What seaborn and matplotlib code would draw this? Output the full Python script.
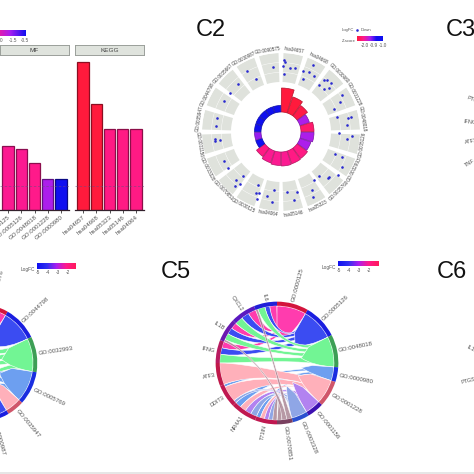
import numpy as np
import pandas as pd
import seaborn as sns
import matplotlib
matplotlib.use("Agg")
import matplotlib.pyplot as plt
from matplotlib.colors import LinearSegmentedColormap, Normalize, to_rgb
from matplotlib.patches import PathPatch, Wedge, Rectangle
from matplotlib.path import Path

# ---------- data ----------
mf_terms = ["GO:0000125", "GO:0005126", "GO:0048018", "GO:0001228", "GO:0000980"]
mf_values = [3.46, 3.30, 2.54, 1.68, 1.68]
mf_z = [-2.3, -2.3, -2.35, -1.7, -1.0]
kegg_terms = ["hsa04657", "hsa04668", "hsa05323", "hsa05146", "hsa04064"]
kegg_values = [8.0, 5.73, 4.38, 4.38, 4.38]
kegg_z = [-3.0, -3.0, -2.4, -2.4, -2.4]
threshold = 1.3

c2_labels = ["hsa04657", "hsa04668", "GO:0000980", "GO:0001228", "GO:0048018", "GO:0005126",
             "GO:0032993", "GO:0005769", "hsa05323", "hsa05146", "hsa04064", "GO:0000125",
             "GO:0070851", "GO:0003328", "GO:0001156", "GO:0035947", "GO:0044798", "GO:0005667",
             "GO:0000987", "GO:0090575"]
c2_bar_len = [24, 17, 13, 10, 13, 13, 11.5, 13, 13.5, 14, 13.5, 12.5, 10.5, 6.7, 6.5, 6.5, 6.5, 6.5, 6.5, 6.5]
c2_z = [-3, -3, -2.9, -1.7, -2.6, -1.7, -1.7, -2.4, -2.4, -2.3, -2.3, -2.3, -2.4,
        -1.0, -1.6, -1.0, -1.0, -1.0, -1.0, -1.0]
dot_angle = [2, 3, 1.5, 8, 12, 3, 20, 25, 26, 30, 23, 39, 39.5, 41.6, 46, 47, 45, 58.6, 62.7, 67, 78, 77.6,
             74.6, 84, 90.7, 93, 96.4, 112.7, 112, 120, 139, 133, 134.6, 127, 145, 152, 154, 174, 165, 169,
             192, 187, 187, 203, 202, 200, 200, 220.6, 223, 218, 220.6, 243, 235.7, 264, 262.4, 262.6,
             282, 275, 298, 307.6, 318, 331, 335, 353]
dot_level = [72, 70, 66, 65, 65, 58, 65, 66, 74, 65, 57.5, 60, 68, 69, 70, 65, 61, 71, 66, 58, 68, 72,
             58, 66, 58, 71, 66, 58, 66, 70, 58, 66, 66, 71, 58, 66, 72, 60, 62, 69,
             65.5, 58, 71, 58, 66, 65, 71.5, 58, 66, 66, 71, 64, 64.5, 66, 62, 67,
             65, 65, 65, 64, 65, 70, 59, 65]

c5_terms = ["GO:0000125", "GO:0005126", "GO:0048018", "GO:0000980", "GO:0001228",
            "GO:0001156", "GO:0003328", "GO:0070851"]
c5_term_size = [30, 33, 31, 14, 25, 16, 16, 15]
c5_genes = ["T73IN", "NR4A1", "DDIT3", "ATF3", "IFNG", "IL1B", "CXCL2", "IL6"]
c5_gene_size = [21, 25, 22, 22, 22, 22, 24, 22]
c5_links = [[0, 0, 0, 0, 3, 3, 3, 3],
            [0, 0, 0, 0, 3, 3, 3, 2],
            [0, 0, 0, 0, 4, 3, 3, 3],
            [1, 1, 1, 0, 0, 0, 0, 0],
            [1, 1, 6, 9, 0, 0, 0, 0],
            [1, 1, 0, 0, 0, 0, 0, 0],
            [1, 1, 1, 0, 0, 0, 0, 0],
            [1, 0, 0, 0, 0, 1, 0, 1]]
c5_ribbon = ["#ff3cae", "#3b4cf2", "#72f594", "#6d9ff0", "#ffb0ba", "#b282f0", "#8fa6e6", "#a5808f"]
c5_term_ring = ["#d3143c", "#1a1ee0", "#3d9f55", "#1a2ee0", "#d0566a", "#3d10b0", "#2a50d0", "#7a4060"]
c5_gene_ring = ["#c01850", "#c01850", "#c01850", "#c0184a", "#b81a60", "#6a18b0", "#5a18c0", "#2020d8"]

c4_terms = ["GO:0000976", "GO:0044798", "GO:0032993", "GO:0005769", "GO:0035947", "GO:0000987"]
c4_term_size = [30, 34, 35, 33, 17, 31]
c4_genes = ["TNF", "ATF3", "IFNG", "IL1B", "PTGS2"]
c4_gene_size = [36, 36, 36, 36, 36]
c4_links = [[0, 0, 0, 1, 1],
            [0, 0, 1, 1, 1],
            [1, 1, 1, 1, 0],
            [1, 1, 1, 0, 0],
            [1, 1, 0, 0, 0],
            [1, 1, 0, 0, 1]]
c4_ribbon = ["#ff3cae", "#3b4cf2", "#72f594", "#6d9ff0", "#ffb0ba", "#3b4cf2"]
c4_term_ring = ["#d3143c", "#1a1ee0", "#3d9f55", "#1a2ee0", "#d0566a", "#1a1ee0"]
c4_gene_ring = ["#c01850", "#c01850", "#b81a60", "#6a18b0", "#2020d8"]

c3_labels = ["PTGS2", "IFNG", "ATF3", "TNF"]
c6_labels = ["IL1B", "PTGS2"]

# ---------- style ----------
sns.set_theme(style="white")
plt.rcParams["font.family"] = ["Liberation Sans", "DejaVu Sans"]
W = H = 474
fig = plt.figure(figsize=(W / 100, H / 100), dpi=100, facecolor="white")
zcmap = LinearSegmentedColormap.from_list("z", ["#ff1a3c", "#ff1a8c", "#a81ef0", "#1010f0"])
znorm = Normalize(-3, -1)
TXT = "#555555"


def rect(x0, y0, x1, y1):
    return [x0 / W, 1 - y1 / H, (x1 - x0) / W, (y1 - y0) / H]


def ptext(x, y, s, size=4.4, color=TXT, **kw):
    kw.setdefault("va", "center")
    fig.text(x / W, 1 - y / H, s, fontsize=size, color=color, **kw)


def darker(c, f=0.55):
    return tuple(v * f for v in to_rgb(c))


def colorbar(x0, y0, x1, y1, colors, ticks):
    ax = fig.add_axes(rect(x0, y0, x1, y1))
    cm = LinearSegmentedColormap.from_list("b", colors)
    ax.imshow(np.linspace(0, 1, 128)[None, :], cmap=cm, aspect="auto")
    ax.axis("off")
    for x, s in ticks:
        ptext(x, y1 + 4, s, size=3.4, ha="center")


def bars(x0, x1, names, vals, zs, title):
    df = pd.DataFrame({"term": names, "value": vals})
    pal = {n: zcmap(znorm(z)) for n, z in zip(names, zs)}
    ax = fig.add_axes(rect(x0, 56, x1, 210))
    sns.barplot(data=df, x="term", y="value", hue="term", palette=pal, legend=False,
                dodge=False, width=0.84, saturation=1, ax=ax)
    for p in ax.patches:
        p.set_edgecolor(darker(p.get_facecolor()))
        p.set_linewidth(0.9)
    ax.axhline(threshold, color="#6a4a80", lw=0.6, ls=(0, (3, 2)), alpha=0.6)
    ax.set_xlim(-0.6, 4.6)
    ax.set_ylim(0, 154 / 18.5)
    ax.set_yticks([])
    ax.set_xlabel("")
    ax.set_ylabel("")
    ax.patch.set_alpha(0)
    sns.despine(ax=ax, left=True)
    ax.spines["bottom"].set_color("#33202c")
    ax.spines["bottom"].set_linewidth(0.9)
    ax.tick_params(axis="x", length=2, width=0.6, color="#333333", pad=1, bottom=True)
    ax.set_xticks(range(5))
    ax.set_xticklabels(names, rotation=40, ha="right", rotation_mode="anchor", fontsize=4.4, color=TXT)
    sa = fig.add_axes(rect(x0, 45, x1, 55))
    sa.set_facecolor("#dfe3dd")
    sa.set_xticks([])
    sa.set_yticks([])
    for s in sa.spines.values():
        s.set_color("#9a9f9a")
        s.set_linewidth(0.7)
    sa.text(0.5, 0.47, title, ha="center", va="center", fontsize=4.6, color="#444444", transform=sa.transAxes)


bars(0, 69, mf_terms, mf_values, mf_z, "MF")
bars(75, 144, kegg_terms, kegg_values, kegg_z, "KEGG")
colorbar(-6, 30, 26, 36, ["#ff1a8c", "#a81ef0", "#1010f0"], [(1, "0"), (13, "-1.5"), (25, "-0.5")])

# ---------- C2 ----------
cx, cy, R = 281, 132, 79
pax = fig.add_axes(rect(cx - R, cy - R, cx + R, cy + R), projection="polar")
pax.set_theta_zero_location("N")
pax.set_theta_direction(-1)
pax.set_rlim(0, R)
pax.axis("off")
n = len(c2_labels)
step = 2 * np.pi / n
gap = np.deg2rad(3.6)
th = (np.arange(n) + 0.5) * step
for lo, hi in [(50, 59.4), (59.8, 69.2), (69.6, 79)]:
    pax.bar(th, hi - lo, width=step - gap, bottom=lo, color="#dfe2dc", linewidth=0)
pax.bar(th, c2_bar_len, width=step - np.deg2rad(1.2), bottom=20,
        color=[zcmap(znorm(z)) for z in c2_z],
        edgecolor=[darker(zcmap(znorm(z)), 0.7) for z in c2_z], linewidth=0.5)
pax.scatter(np.deg2rad(dot_angle), dot_level, s=3.5, color="#2a2ad0", linewidths=0, zorder=3)
for t, lab in zip(th, c2_labels):
    deg = np.rad2deg(t)
    rot = -deg if (deg < 90 or deg > 270) else 180 - deg
    pax.text(t, 82.5, lab, fontsize=3.3, color="#444444", rotation=rot, rotation_mode="anchor",
             ha="center", va="center", clip_on=False)
ptext(342, 30, "LogFC", size=3.0)
pax2 = fig.add_axes(rect(355, 28, 359, 32))
sns.scatterplot(x=[0], y=[0], s=3.5, color="#2a2ad0", linewidth=0, ax=pax2, legend=False)
pax2.axis("off")
ptext(361, 30, "Down", size=3.0)
ptext(342, 41, "Z-score", size=3.0)
colorbar(357, 36, 383, 41, ["#ff1a3c", "#ff1a8c", "#a81ef0", "#1010f0", "#1010f0"],
         [(365, "-2.0"), (374, "-0.9"), (383, "-1.0")])


# ---------- chords ----------
def point(a, r=1.0):
    a = np.deg2rad(a)
    return np.array([r * np.sin(a), r * np.cos(a)])


def arc(a0, a1, r=0.97):
    return [point(a, r) for a in np.linspace(a0, a1, 12)]


def chord(px, py, rad, terms, tsize, genes, gsize, links, ribbon, tring, gring):
    lim = 1.6
    half = rad * lim
    ax = fig.add_axes(rect(px - half, py - half, px + half, py + half))
    ax.set_xlim(-lim, lim)
    ax.set_ylim(-lim, lim)
    ax.axis("off")
    ax.patch.set_alpha(0)
    L = np.array(links, float)
    tb = np.concatenate([[0], np.cumsum(tsize)]) * 180 / np.sum(tsize)
    gb = 180 + np.concatenate([[0], np.cumsum(gsize)]) * 180 / np.sum(gsize)
    tunit = (tb[1:] - tb[:-1]) / L.sum(axis=1)
    gunit = (gb[1:] - gb[:-1]) / L.sum(axis=0)
    tpos = {}
    for i in range(len(terms)):
        a = tb[i]
        for j in reversed(range(len(genes))):
            if L[i, j] > 0:
                tpos[i, j] = (a, a + L[i, j] * tunit[i])
                a += L[i, j] * tunit[i]
    gpos = {}
    for j in range(len(genes)):
        a = gb[j]
        for i in reversed(range(len(terms))):
            if L[i, j] > 0:
                gpos[i, j] = (a, a + L[i, j] * gunit[j])
                a += L[i, j] * gunit[j]
    for i in range(len(terms)):
        tmid = (tb[i] + tb[i + 1]) / 2
        c_t = point(tmid, 0.42)
        grey = i == len(terms) - 1 and len(terms) == 8
        for j in range(len(genes)):
            if L[i, j] <= 0:
                continue
            a0, a1 = tpos[i, j]
            b0, b1 = gpos[i, j]
            verts = arc(a0, a1)
            codes = [Path.MOVETO] + [Path.LINETO] * 11
            verts += [c_t, point(b0, 0.5), point(b0, 0.97)]
            codes += [Path.CURVE4] * 3
            verts += arc(b0, b1)[1:]
            codes += [Path.LINETO] * 11
            verts += [point(b1, 0.5), c_t, point(a0, 0.97)]
            codes += [Path.CURVE4] * 3
            ax.add_patch(PathPatch(Path(np.array(verts), codes), facecolor=ribbon[i],
                                   edgecolor="white", lw=0.4, alpha=0.8 if grey else 1))
        if not grey:
            # the solid fan where a term's links leave its arc together
            v = arc(tb[i], tb[i + 1], 0.965)
            c = [Path.MOVETO] + [Path.LINETO] * 11
            v += [point(tb[i + 1], 0.6), c_t, c_t, point(tb[i], 0.6), point(tb[i], 0.965)]
            c += [Path.CURVE3, Path.CURVE3, Path.CURVE3, Path.CURVE3, Path.LINETO]
            ax.add_patch(PathPatch(Path(np.array(v), c), facecolor=ribbon[i], edgecolor="white", lw=0.4))
    for bounds, cols in [(tb, tring), (gb, gring)]:
        for k, col in enumerate(cols):
            ax.add_patch(Wedge((0, 0), 1.04, 90 - bounds[k + 1], 90 - bounds[k], width=0.07,
                               facecolor=col, edgecolor="none"))
    for names, bounds in [(terms, tb), (genes, gb)]:
        for k, nm in enumerate(names):
            a = (bounds[k] + bounds[k + 1]) / 2
            x, y = point(a, 1.07)
            if a < 180:
                ax.text(x, y, nm, rotation=90 - a, ha="left", va="center", rotation_mode="anchor",
                        fontsize=4.4, color=TXT)
            else:
                ax.text(x, y, nm, rotation=270 - a, ha="right", va="center", rotation_mode="anchor",
                        fontsize=4.0, color=TXT)


chord(-22, 363, 57, c4_terms, c4_term_size, c4_genes, c4_gene_size, c4_links, c4_ribbon, c4_term_ring, c4_gene_ring)
chord(277, 363, 59, c5_terms, c5_term_size, c5_genes, c5_gene_size, c5_links, c5_ribbon, c5_term_ring, c5_gene_ring)

logfc = ["#1010f0", "#3030f0", "#a81ef0", "#ff1a8c", "#ff1a5c"]
ptext(21, 269, "LogFC", size=3.4)
colorbar(37, 263, 76, 269, logfc, [(38, "-5"), (48, "-4"), (58, "-3"), (68, "-2")])
ptext(322, 267, "LogFC", size=3.4)
colorbar(338, 261, 379, 266, logfc, [(339, "-5"), (349, "-4"), (359, "-3"), (369, "-2")])

# ---------- headings & cropped labels ----------
for x, y, s in [(196, 30, "C2"), (445.5, 30, "C3"), (160.5, 272, "C5"), (436.5, 272, "C6")]:
    ptext(x, y, s, size=17, color="#111111", ha="left")
for (x, y, rot), s in zip([(467, 98, -20), (464, 122, -6), (465, 143, 10), (465, 166, 30)], c3_labels):
    ptext(x, y, s, size=4.0, rotation=rot, rotation_mode="anchor", ha="left")
for (x, y, rot), s in zip([(467, 347, -28), (461, 383, 14)], c6_labels):
    ptext(x, y, s, size=4.0, rotation=rot, rotation_mode="anchor", ha="left")

fig.add_artist(Rectangle((0, 0), 1, 2 / H, transform=fig.transFigure, facecolor="#e6e6e6", edgecolor="none"))
fig.savefig("out.png", dpi=100)
